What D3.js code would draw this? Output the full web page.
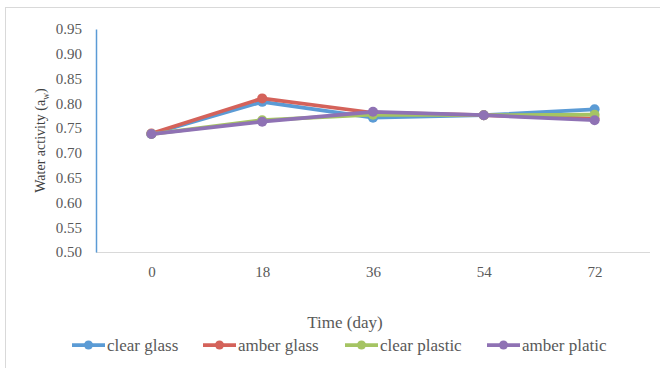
<!DOCTYPE html>
<html>
<head>
<meta charset="utf-8">
<script src="https://cdn.jsdelivr.net/npm/d3@7"></script>
<style>
  html, body { margin: 0; padding: 0; background: #ffffff; }
  svg { display: block; }
  svg text { font-family: "Liberation Serif", "Times New Roman", Times, "DejaVu Serif", serif; }
</style>
</head>
<body>
<svg id="chart" width="660" height="368"></svg>
<script>
// Storage time (days) on the x axis
const days = ["0", "18", "36", "54", "72"];
// Y axis tick labels
const yTicks = [0.50, 0.55, 0.60, 0.65, 0.70, 0.75, 0.80, 0.85, 0.90, 0.95];

// Water activity per packaging type
const clearGlass   = [0.738, 0.803, 0.771, 0.776, 0.788];
const amberGlass   = [0.739, 0.810, 0.781, 0.776, 0.769];
const clearPlastic = [0.738, 0.766, 0.777, 0.776, 0.777];
const amberPlatic  = [0.738, 0.763, 0.783, 0.776, 0.766];

const seriesNames  = ["clear glass", "amber glass", "clear plastic", "amber platic"];
const seriesValues = [clearGlass, amberGlass, clearPlastic, amberPlatic];
const seriesColors = ["#5b9bd5", "#d4625a", "#a5c463", "#8f72b4"];

const serif = "'Liberation Serif', 'Times New Roman', Times, 'DejaVu Serif', serif";

const svg = d3.select("#chart").style("font-family", serif);

// outer frame
svg.append("rect")
  .attr("x", 5.5).attr("y", 7.5)
  .attr("width", 670).attr("height", 380)
  .attr("fill", "none").attr("stroke", "#d9d9d9").attr("stroke-width", 1);

const plot = { left: 96, right: 650, top: 29, bottom: 252 };

const x = d3.scalePoint().domain(days).range([plot.left, plot.right]).padding(0.5);
const y = d3.scaleLinear().domain([0.50, 0.95]).range([plot.bottom, plot.top]);

// x axis
const xAxis = svg.append("g")
  .attr("transform", `translate(0,${plot.bottom})`)
  .call(d3.axisBottom(x).tickSize(0).tickPadding(14));
xAxis.attr("font-family", null);
xAxis.select(".domain").attr("stroke", "#d9d9d9").attr("stroke-width", 1.2)
  .attr("d", `M${plot.left},0.5H${plot.right}`);
xAxis.selectAll(".tick text")
  .attr("fill", "#595959").attr("font-size", 15)
  .style("font-family", serif);

// y axis
const yAxis = svg.append("g")
  .attr("transform", `translate(${plot.left},0)`)
  .call(d3.axisLeft(y).tickValues(yTicks).tickFormat(d3.format(".2f")).tickSize(0).tickPadding(14));
yAxis.attr("font-family", null);
yAxis.select(".domain").attr("stroke", "#5b9bd5").attr("stroke-width", 1.5);
yAxis.selectAll(".tick text")
  .attr("fill", "#595959").attr("font-size", 15)
  .style("font-family", serif);

// axis titles
svg.append("text")
  .attr("x", 345).attr("y", 328)
  .attr("text-anchor", "middle")
  .attr("fill", "#595959").attr("font-size", 17)
  .style("font-family", serif)
  .text("Time (day)");

const yTitle = svg.append("text")
  .attr("transform", `translate(45,${(plot.top + plot.bottom) / 2}) rotate(-90)`)
  .attr("text-anchor", "middle")
  .attr("fill", "#404040").attr("font-size", 14)
  .style("font-family", serif);
yTitle.append("tspan").text("Water activity (a");
yTitle.append("tspan").attr("font-size", 9.5).attr("dy", 4).text("w");
yTitle.append("tspan").attr("dy", -4).text(")");

// series lines and markers
const line = d3.line().x((d, i) => x(days[i])).y(d => y(d));

seriesValues.forEach((vals, s) => {
  const g = svg.append("g");
  g.append("path")
    .datum(vals)
    .attr("d", line)
    .attr("fill", "none")
    .attr("stroke", seriesColors[s])
    .attr("stroke-width", 3.75)
    .attr("stroke-linejoin", "round");
  g.selectAll("circle")
    .data(vals)
    .join("circle")
    .attr("cx", (d, i) => x(days[i]))
    .attr("cy", d => y(d))
    .attr("r", 5)
    .attr("fill", seriesColors[s]);
});

// legend
const legendX = [72, 203, 345, 487];
const legendY = 345;
const legend = svg.append("g");
seriesNames.forEach((name, s) => {
  const lx = legendX[s];
  legend.append("line")
    .attr("x1", lx).attr("x2", lx + 33)
    .attr("y1", legendY).attr("y2", legendY)
    .attr("stroke", seriesColors[s]).attr("stroke-width", 3.75);
  legend.append("circle")
    .attr("cx", lx + 16.5).attr("cy", legendY).attr("r", 4.5)
    .attr("fill", seriesColors[s]);
  legend.append("text")
    .attr("x", lx + 35).attr("y", legendY + 6)
    .attr("fill", "#595959").attr("font-size", 17)
    .style("font-family", serif)
    .text(name);
});
</script>
</body>
</html>
